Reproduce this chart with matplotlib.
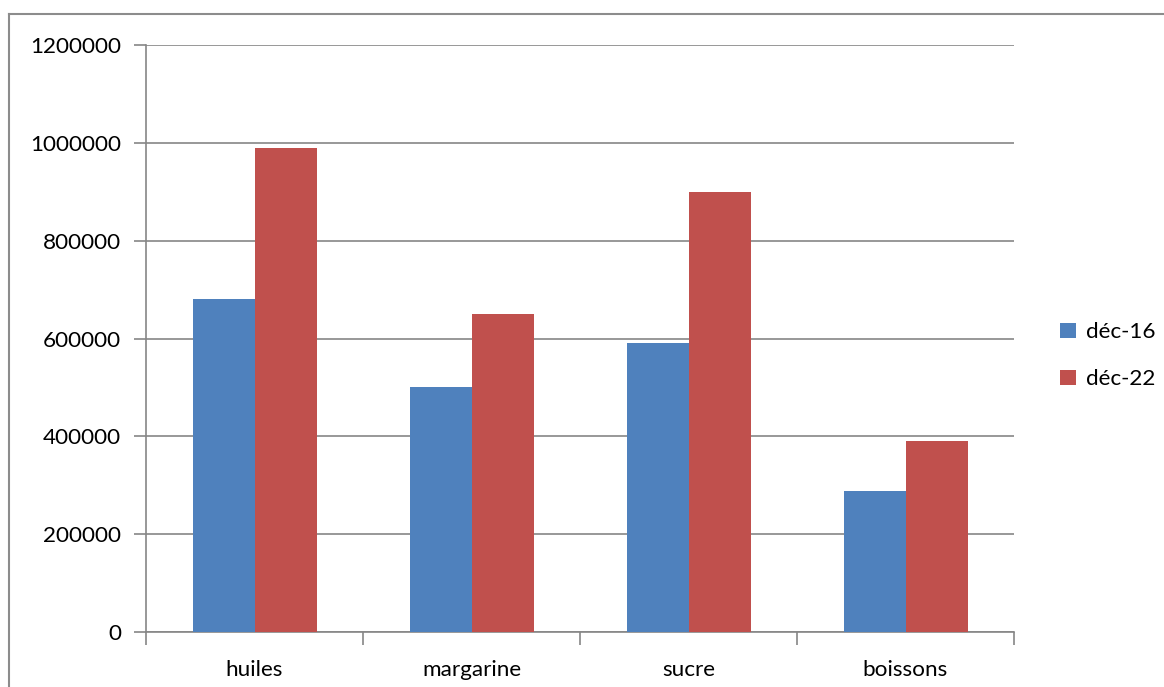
import matplotlib
matplotlib.use("Agg")
import matplotlib.pyplot as plt
from matplotlib.lines import Line2D
from matplotlib.patches import Patch
import numpy as np

categories = ["huiles", "margarine", "sucre", "boissons"]
series_names = ["déc-16", "déc-22"]
values_dec16 = [680000, 500000, 590000, 288000]
values_dec22 = [990000, 650000, 900000, 390000]
colors = ["#4F81BD", "#C0504D"]
yticks = [0, 200000, 400000, 600000, 800000, 1000000, 1200000]

plt.rcParams["font.family"] = ["Lato", "DejaVu Sans"]
FS = 16.2

W, H = 1164, 687
fig = plt.figure(figsize=(W / 100, H / 100), dpi=100)
fig.patch.set_facecolor("white")

# plot area in pixel coordinates
left, right, top, bottom = 146, 1014, 45, 632
ax = fig.add_axes([left / W, 1 - bottom / H, (right - left) / W, (bottom - top) / H])

x = np.arange(len(categories))
bw = 1 / 3.5
ax.bar(x - bw / 2, values_dec16, width=bw, color=colors[0], zorder=3)
ax.bar(x + bw / 2, values_dec22, width=bw, color=colors[1], zorder=3)

ax.set_xlim(-0.5, len(categories) - 0.5)
ax.set_ylim(0, 1200000)
ax.set_yticks(yticks)
ax.set_yticklabels([str(v) for v in yticks], fontsize=FS, color="black")
ax.yaxis.grid(True, color="#868686", linewidth=1.2, zorder=0)
ax.set_axisbelow(True)

# category boundaries carry the tick marks; labels sit at the centres
ax.set_xticks(np.arange(-0.5, len(categories), 1.0))
ax.set_xticklabels([])
ax.set_xticks(x, minor=True)
ax.set_xticklabels(categories, minor=True, fontsize=FS)
ax.tick_params(axis="x", which="minor", length=0, pad=20)
ax.tick_params(axis="x", which="major", length=9, width=1.2, color="#868686", direction="out")
ax.tick_params(axis="y", length=9, width=1.2, color="#868686", direction="out", pad=9)

for s in ["top", "right"]:
    ax.spines[s].set_visible(False)
for s in ["left", "bottom"]:
    ax.spines[s].set_color("#868686")
    ax.spines[s].set_linewidth(1.2)

handles = [Patch(facecolor=c, edgecolor="none") for c in colors]
fig.legend(handles, series_names, loc="center left",
           bbox_to_anchor=(1040 / W, 1 - 356 / H), frameon=False,
           fontsize=FS, handlelength=0.7, handleheight=0.7,
           handletextpad=0.45, labelspacing=1.2)

# outer chart border
fig.add_artist(Line2D([9 / W, 9 / W], [0, 1 - 14 / H], transform=fig.transFigure,
                      color="#8c8c8c", linewidth=1.5))
fig.add_artist(Line2D([9 / W, 1], [1 - 14 / H, 1 - 14 / H], transform=fig.transFigure,
                      color="#8c8c8c", linewidth=1.5))

fig.savefig("out.png", dpi=100, facecolor="white")
